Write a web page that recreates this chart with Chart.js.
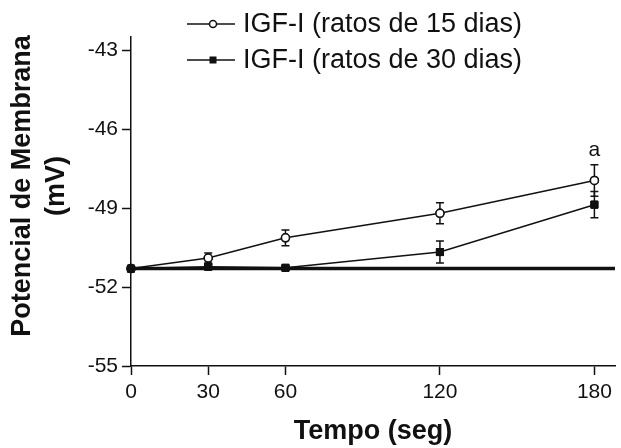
<!DOCTYPE html>
<html lang="pt">

<head>
    <meta charset="UTF-8">
    <title>Potencial de Membrana - IGF-I</title>
    <script src="https://cdn.jsdelivr.net/npm/chart.js"></script>
    <style>
        body { margin: 0; background: #fff; }
        canvas { display: block; }
    </style>
</head>

<body>
    <canvas id="myChart" width="621" height="448"></canvas>
    <script>
        // dados
        const tempos = [0, 30, 60, 120, 180];
        const ratos15 = [-51.3, -50.9, -50.13, -49.2, -47.95];
        const erro15 = [0, 0.19, 0.3, 0.4, 0.6];
        const ratos30 = [-51.3, -51.23, -51.27, -50.67, -48.87];
        const erro30 = [0, 0.08, 0.08, 0.42, 0.5];
        const basal = [-51.3, -51.3];
        const basalX = [0, 188];
        const notas15 = ['', '', '', '', 'a'];

        const xTicks = [0, 30, 60, 120, 180];
        const yTicks = [-55, -52, -49, -46, -43];
        const legendas = ['IGF-I (ratos de 15 dias)', 'IGF-I (ratos de 30 dias)'];

        const INK = '#111';
        const FONT = '"Liberation Sans", Arial, sans-serif';

        const pts = (xs, ys) => xs.map((x, i) => ({ x: x, y: ys[i] }));

        // barras de erro + letra "a"
        const errorBars = {
            id: 'errorBars',
            afterDatasetsDraw(chart) {
                const ctx = chart.ctx;
                const y = chart.scales.y;
                const sets = [[0, ratos15, erro15], [1, ratos30, erro30]];
                ctx.save();
                ctx.strokeStyle = INK;
                ctx.lineWidth = 1.5;
                sets.forEach(([idx, vals, errs]) => {
                    const meta = chart.getDatasetMeta(idx);
                    meta.data.forEach((p, i) => {
                        if (!errs[i]) return;
                        const top = y.getPixelForValue(vals[i] + errs[i]);
                        const bot = y.getPixelForValue(vals[i] - errs[i]);
                        ctx.beginPath();
                        ctx.moveTo(p.x, top); ctx.lineTo(p.x, bot);
                        ctx.moveTo(p.x - 4, top); ctx.lineTo(p.x + 4, top);
                        ctx.moveTo(p.x - 4, bot); ctx.lineTo(p.x + 4, bot);
                        ctx.stroke();
                    });
                });
                // redesenha os marcadores por cima das barras
                sets.forEach(([idx]) => {
                    chart.getDatasetMeta(idx).data.forEach(p => p.draw(ctx, chart.chartArea));
                });
                ctx.fillStyle = INK;
                ctx.font = '21px ' + FONT;
                ctx.textAlign = 'center';
                ctx.textBaseline = 'bottom';
                chart.getDatasetMeta(0).data.forEach((p, i) => {
                    if (!notas15[i]) return;
                    const top = y.getPixelForValue(ratos15[i] + erro15[i]);
                    ctx.fillText(notas15[i], p.x, top - 4);
                });
                ctx.restore();
            }
        };

        // legenda e título do eixo y
        const extras = {
            id: 'extras',
            afterDraw(chart) {
                const ctx = chart.ctx;
                ctx.save();
                ctx.strokeStyle = INK;
                ctx.fillStyle = INK;
                ctx.lineWidth = 1.5;
                const rows = [24, 60];
                rows.forEach((ry, i) => {
                    ctx.beginPath();
                    ctx.moveTo(187, ry); ctx.lineTo(235, ry);
                    ctx.stroke();
                    if (i === 0) {
                        ctx.beginPath();
                        ctx.arc(213, ry, 3.5, 0, Math.PI * 2);
                        ctx.fillStyle = '#fff';
                        ctx.fill();
                        ctx.stroke();
                    } else {
                        ctx.fillStyle = INK;
                        ctx.fillRect(209.5, ry - 3.5, 7, 7);
                    }
                    ctx.fillStyle = INK;
                    ctx.font = '27px ' + FONT;
                    ctx.textAlign = 'left';
                    ctx.textBaseline = 'middle';
                    ctx.fillText(legendas[i], 243, ry + 1);
                });
                ctx.translate(0, 186);
                ctx.rotate(-Math.PI / 2);
                ctx.font = 'bold 27px ' + FONT;
                ctx.textAlign = 'center';
                ctx.textBaseline = 'middle';
                ctx.fillText('Potencial de Membrana', 0, 23);
                ctx.fillText('(mV)', 0, 57);
                ctx.restore();
            }
        };

        new Chart(document.getElementById('myChart'), {
            type: 'line',
            data: {
                datasets: [{
                    label: legendas[0],
                    data: pts(tempos, ratos15),
                    borderColor: INK,
                    borderWidth: 1.5,
                    pointStyle: 'circle',
                    pointRadius: 4,
                    pointBackgroundColor: '#fff',
                    pointBorderColor: INK,
                    pointBorderWidth: 1.5,
                    order: 2
                }, {
                    label: legendas[1],
                    data: pts(tempos, ratos30),
                    borderColor: INK,
                    borderWidth: 1.5,
                    pointStyle: 'rect',
                    pointRadius: 5,
                    pointBackgroundColor: INK,
                    pointBorderColor: INK,
                    pointBorderWidth: 1,
                    order: 1
                }, {
                    label: 'basal',
                    data: pts(basalX, basal),
                    borderColor: INK,
                    borderWidth: 3.5,
                    pointRadius: 0,
                    order: 3
                }]
            },
            options: {
                responsive: false,
                animation: false,
                clip: false,
                layout: { padding: { top: 37, right: 1, left: 0, bottom: 0 } },
                plugins: { legend: { display: false }, tooltip: { enabled: false } },
                scales: {
                    x: {
                        type: 'linear',
                        min: 0,
                        max: 188,
                        afterFit: s => { s.height = 82; },
                        afterBuildTicks: s => { s.ticks = xTicks.map(v => ({ value: v })); },
                        grid: { drawOnChartArea: false, tickLength: 9, tickWidth: 1.5, tickColor: INK },
                        border: { color: INK, width: 1.5 },
                        ticks: { color: INK, font: { family: FONT, size: 21 }, padding: 5, maxRotation: 0 },
                        title: {
                            display: true,
                            text: 'Tempo (seg)',
                            color: INK,
                            font: { family: FONT, size: 27, weight: 'bold' },
                            padding: { top: 0, bottom: 0 }
                        }
                    },
                    y: {
                        min: -55,
                        max: -42.5,
                        afterFit: s => { s.width = 131; },
                        afterBuildTicks: s => { s.ticks = yTicks.map(v => ({ value: v })); },
                        grid: { drawOnChartArea: false, tickLength: 9, tickWidth: 1.5, tickColor: INK },
                        border: { color: INK, width: 1.5 },
                        ticks: { color: INK, font: { family: FONT, size: 21 }, padding: 4 }
                    }
                }
            },
            plugins: [errorBars, extras]
        });
    </script>
</body>

</html>
